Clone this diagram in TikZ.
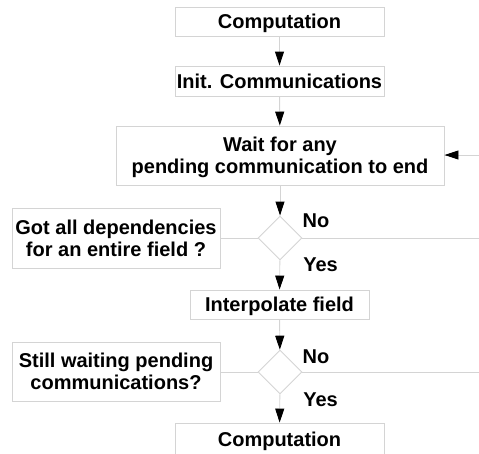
\documentclass[tikz,border=0pt]{standalone}
\usepackage{fontspec}
\setmainfont{Liberation Sans}
\usetikzlibrary{shapes.geometric,arrows.meta}
\definecolor{edgegray}{HTML}{D4D4D4}
\begin{document}
\begin{tikzpicture}[x=1pt,y=-1pt,
  every node/.style={font=\fontsize{20}{22}\selectfont\bfseries, text=black},
  box/.style={draw=edgegray, line width=0.9pt, rectangle, inner sep=0pt, align=center, text depth=0pt},
  one/.style={text height=14.4pt},
  dec/.style={draw=edgegray, line width=0.9pt, diamond, aspect=1, inner sep=0pt, minimum width=44pt, minimum height=44pt},
  conn/.style={draw=edgegray, line width=0.9pt},
  arr/.style={conn, -{Triangle[length=14pt,width=9pt,color=black,fill=black]}},
  lab/.style={inner sep=0pt, text height=14.4pt, text depth=0pt}
]
\useasboundingbox (0,0) rectangle (479,453);
\node[box, one, minimum width=209pt, minimum height=29pt] (c1) at (279.5,21.5) {Computation};
\node[box, one, minimum width=209pt, minimum height=30pt] (init) at (279.5,81) {Init. Communications};
\node[box, minimum width=328pt, minimum height=59pt] (wait) at (280,155.5) {Wait for any\\pending communication to end};
\node[dec] (d1) at (280,238) {};
\node[box, minimum width=208pt, minimum height=60pt] (q1) at (116,238) {Got all dependencies\\for an entire field ?};
\node[box, one, minimum width=179pt, minimum height=29pt] (interp) at (279.5,304.5) {Interpolate field};
\node[dec] (d2) at (280,372) {};
\node[box, minimum width=208pt, minimum height=59pt] (q2) at (116,371.5) {Still waiting pending\\communications?};
\node[box, one, minimum width=209pt, minimum height=32pt] (c2) at (279.5,439) {Computation};
\node[lab] (no1) at (316,220) {No};
\node[lab] (yes1) at (320.5,264) {Yes};
\node[lab] (no2) at (316,356) {No};
\node[lab] (yes2) at (320.5,399) {Yes};
\coordinate (r0) at (480,155);
\coordinate (r1) at (480,238);
\coordinate (r2) at (480,372);
\draw[arr] (c1) -- (init);
\draw[arr] (init) -- (wait);
\draw[arr] (wait) -- (d1);
\draw[arr] (d1) -- (interp);
\draw[arr] (interp) -- (d2);
\draw[arr] (d2) -- (c2);
\draw[arr] (r0) -- (wait.east |- r0);
\draw[conn] (q1.east) -- (d1.west);
\draw[conn] (d1.east) -- (r1);
\draw[conn] (q2.east |- d2) -- (d2.west);
\draw[conn] (d2.east) -- (r2);
\end{tikzpicture}
\end{document}
